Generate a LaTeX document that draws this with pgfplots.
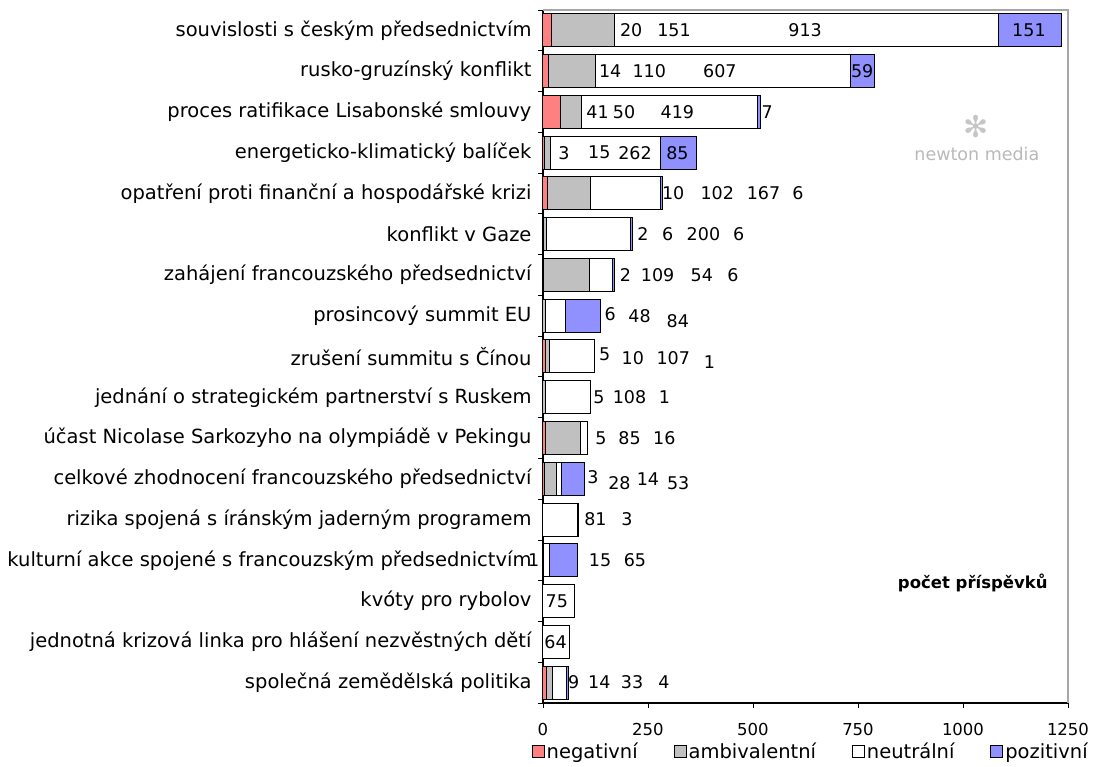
\documentclass[border=0pt]{standalone}
\usepackage{fontspec}
\setmainfont{DejaVu Sans}
\usepackage{pgfplots}
\pgfplotsset{compat=1.18}
\usepackage{pgfplotstable}
\definecolor{negc}{RGB}{255,128,128}
\definecolor{ambc}{RGB}{192,192,192}
\definecolor{posc}{RGB}{144,144,255}
\newcommand{\cf}{\fontsize{19.5bp}{22bp}\selectfont}
\newcommand{\lf}{\fontsize{19.5bp}{22bp}\selectfont}
\newcommand{\nf}{\fontsize{16.5bp}{19bp}\selectfont}
\newcommand{\df}{\fontsize{17.5bp}{20bp}\selectfont}
\newcommand{\lab}[3]{\node[font=\df, inner sep=0pt] at (axis cs:#1,#2) {#3};}
\pgfplotsset{sq/.style={legend image code/.code={\draw[##1,line width=0.9bp] (0bp,-6bp) rectangle (12bp,6bp);}}}

\pgfplotstableread{
y neg amb neu poz
17 20 151 913 151
16 14 110 607 59
15 41 50 419 7
14 3 15 262 85
13 10 102 167 6
12 2 6 200 6
11 2 109 54 6
10 0 6 48 84
9 5 10 107 1
8 0 5 108 1
7 5 85 16 0
6 3 28 14 53
5 0 0 81 3
4 0 1 15 65
3 0 0 75 0
2 0 0 64 0
1 9 14 33 4
}\data

\begin{document}
\begin{tikzpicture}
\path[use as bounding box] (-543bp,-64bp) rectangle (552bp,703bp);
\begin{axis}[
  at={(0,0)}, anchor=south west,
  scale only axis, width=525bp, height=693bp,
  xbar stacked, bar width=33bp,
  xmin=0, xmax=1250, ymin=0.5, ymax=17.5,
  xtick={0,250,...,1250},
  ytick={1,...,17},
  yticklabels={společná zemědělská politika,
    jednotná krizová linka pro hlášení nezvěstných dětí,
    kvóty pro rybolov,
    kulturní akce spojené s francouzským předsednictvím,
    rizika spojená s íránským jaderným programem,
    celkové zhodnocení francouzského předsednictví,
    účast Nicolase Sarkozyho na olympiádě v Pekingu,
    jednání o strategickém partnerství s Ruskem,
    zrušení summitu s Čínou,
    prosincový summit EU,
    zahájení francouzského předsednictví,
    konflikt v Gaze,
    opatření proti finanční a hospodářské krizi,
    energeticko-klimatický balíček,
    proces ratifikace Lisabonské smlouvy,
    rusko-gruzínský konflikt,
    souvislosti s českým předsednictvím},
  minor ytick={0.5,1.5,...,17.5},
  axis x line*=bottom, axis y line*=left,
  axis line style={black, line width=1.2bp, -},
  tick align=outside,
  major tick length=5bp, minor tick length=5bp,
  major y tick style={draw=none},
  minor y tick style={black, line width=0.8bp},
  major x tick style={black, line width=0.8bp},
  yticklabel style={font=\cf, anchor=east, xshift=-3bp},
  xticklabel style={font=\nf, yshift=-12bp},
  /pgf/number format/assume math mode=true,
  /pgf/number format/1000 sep={},
  clip=false,
  legend columns=4,
  legend cell align=left,
  legend style={draw=none, fill=none, font=\lf, at={(0.51,0)}, anchor=center, yshift=-48bp,
    /tikz/every even column/.append style={column sep=34bp}, inner sep=0pt},
]
\addplot[sq, fill=negc, draw=black, line width=1bp] table[x=neg, y=y] {\data};
\addplot[sq, fill=ambc, draw=black, line width=1bp] table[x=amb, y=y] {\data};
\addplot[sq, fill=white, draw=black, line width=1bp] table[x=neu, y=y] {\data};
\addplot[sq, fill=posc, draw=black, line width=1bp] table[x=poz, y=y] {\data};
\legend{negativní, ambivalentní, neutrální, pozitivní}
\draw[gray!70, line width=1.2bp] (rel axis cs:0,1) -- (rel axis cs:1,1) -- (rel axis cs:1,0);
\end{axis}
\begin{axis}[
  at={(0,0)}, anchor=south west,
  scale only axis, width=525bp, height=693bp,
  xmin=0, xmax=1250, ymin=0.5, ymax=17.5,
  hide axis, clip=false,
]
\lab{210}{17}{20}\lab{312}{17}{151}\lab{624}{17}{913}\lab{1157}{17}{151}
\lab{160}{16}{14}\lab{253}{16}{110}\lab{421}{16}{607}\lab{760}{16}{59}
\lab{130}{15}{41}\lab{193}{15}{50}\lab{320}{15}{419}\lab{534}{15}{7}
\lab{50}{14}{3}\lab{134}{14}{15}\lab{219}{14}{262}\lab{320}{14}{85}
\lab{310}{13}{10}\lab{415}{13}{102}\lab{525}{13}{167}\lab{607}{13}{6}
\lab{238}{12}{2}\lab{297}{12}{6}\lab{382}{12}{200}\lab{466}{12}{6}
\lab{196}{11}{2}\lab{273}{11}{109}\lab{378}{11}{54}\lab{452}{11}{6}
\lab{160}{10.05}{6}\lab{230}{9.98}{48}\lab{321}{9.87}{84}
\lab{147}{9.05}{5}\lab{214}{8.95}{10}\lab{310}{8.95}{107}\lab{396}{8.85}{1}
\lab{133}{8}{5}\lab{206}{8}{108}\lab{289}{8}{1}
\lab{138}{7}{5}\lab{206}{7}{85}\lab{289}{7}{16}
\lab{119}{6.05}{3}\lab{182}{5.9}{28}\lab{250}{6}{14}\lab{322}{5.9}{53}
\lab{125}{5}{81}\lab{200}{5}{3}
\lab{-22}{4}{1}\lab{136}{4}{15}\lab{219}{4}{65}
\lab{33}{3}{75}
\lab{30}{2}{64}
\lab{73}{1}{9}\lab{134}{1}{14}\lab{212}{1}{33}\lab{288}{1}{4}
\node[font=\fontsize{16.5bp}{19bp}\selectfont\bfseries, anchor=east, inner sep=0pt] at (axis cs:1202,3.44) {počet příspěvků};
\node[font=\fontsize{17.5bp}{19bp}\selectfont, text=gray!55, inner sep=0pt] at (axis cs:1033,13.97) {newton media};
\node[font=\fontsize{30bp}{32bp}\selectfont, text=gray!45, inner sep=0pt] at (axis cs:1030,14.65) {✻};
\end{axis}
\end{tikzpicture}
\end{document}
